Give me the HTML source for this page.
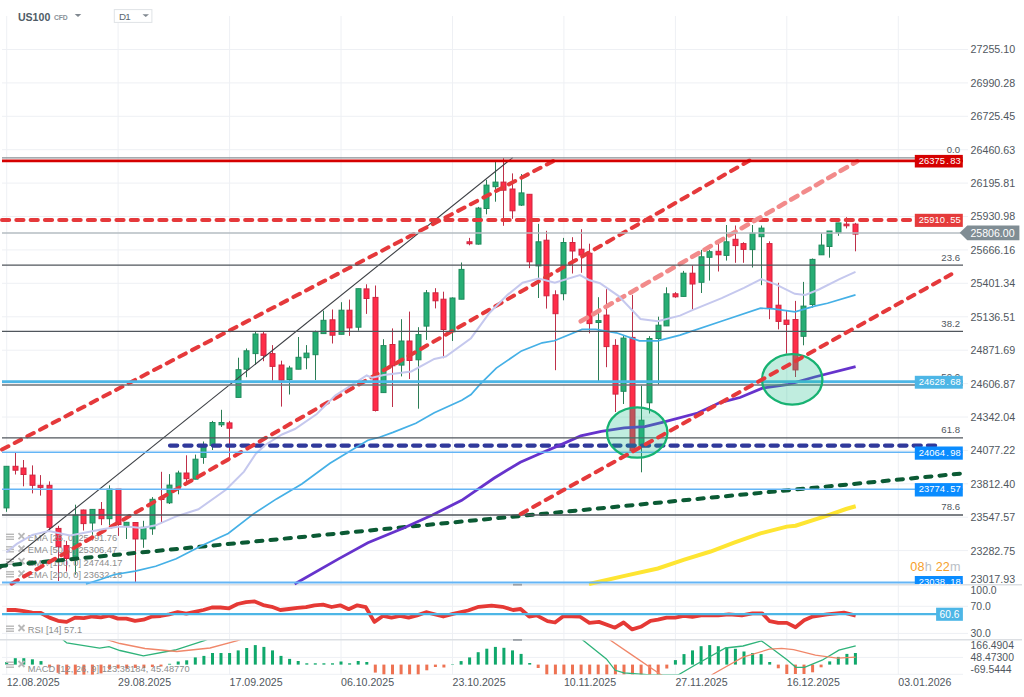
<!DOCTYPE html>
<html><head><meta charset="utf-8"><style>
html,body{margin:0;padding:0;background:#fff;width:1024px;height:697px;overflow:hidden}
svg{display:block;font-family:"Liberation Sans", sans-serif}
</style></head><body>
<svg width="1024" height="697" viewBox="0 0 1024 697">
<rect width="1024" height="697" fill="#ffffff"/>
<line x1="2" y1="49.5" x2="968" y2="49.5" stroke="#eef0f4" stroke-width="1"/>
<line x1="2" y1="82.9" x2="968" y2="82.9" stroke="#eef0f4" stroke-width="1"/>
<line x1="2" y1="116.3" x2="968" y2="116.3" stroke="#eef0f4" stroke-width="1"/>
<line x1="2" y1="149.7" x2="968" y2="149.7" stroke="#eef0f4" stroke-width="1"/>
<line x1="2" y1="183.1" x2="968" y2="183.1" stroke="#eef0f4" stroke-width="1"/>
<line x1="2" y1="216.5" x2="968" y2="216.5" stroke="#eef0f4" stroke-width="1"/>
<line x1="2" y1="249.9" x2="968" y2="249.9" stroke="#eef0f4" stroke-width="1"/>
<line x1="2" y1="283.3" x2="968" y2="283.3" stroke="#eef0f4" stroke-width="1"/>
<line x1="2" y1="316.8" x2="968" y2="316.8" stroke="#eef0f4" stroke-width="1"/>
<line x1="2" y1="350.2" x2="968" y2="350.2" stroke="#eef0f4" stroke-width="1"/>
<line x1="2" y1="383.6" x2="968" y2="383.6" stroke="#eef0f4" stroke-width="1"/>
<line x1="2" y1="417" x2="968" y2="417" stroke="#eef0f4" stroke-width="1"/>
<line x1="2" y1="450.4" x2="968" y2="450.4" stroke="#eef0f4" stroke-width="1"/>
<line x1="2" y1="483.8" x2="968" y2="483.8" stroke="#eef0f4" stroke-width="1"/>
<line x1="2" y1="517.2" x2="968" y2="517.2" stroke="#eef0f4" stroke-width="1"/>
<line x1="2" y1="550.6" x2="968" y2="550.6" stroke="#eef0f4" stroke-width="1"/>
<line x1="6.7" y1="16" x2="6.7" y2="675" stroke="#eef0f4" stroke-width="1"/>
<line x1="118.1" y1="16" x2="118.1" y2="675" stroke="#eef0f4" stroke-width="1"/>
<line x1="229.6" y1="16" x2="229.6" y2="675" stroke="#eef0f4" stroke-width="1"/>
<line x1="341" y1="16" x2="341" y2="675" stroke="#eef0f4" stroke-width="1"/>
<line x1="452.5" y1="16" x2="452.5" y2="675" stroke="#eef0f4" stroke-width="1"/>
<line x1="563.9" y1="16" x2="563.9" y2="675" stroke="#eef0f4" stroke-width="1"/>
<line x1="675.4" y1="16" x2="675.4" y2="675" stroke="#eef0f4" stroke-width="1"/>
<line x1="786.8" y1="16" x2="786.8" y2="675" stroke="#eef0f4" stroke-width="1"/>
<line x1="898.3" y1="16" x2="898.3" y2="675" stroke="#eef0f4" stroke-width="1"/>
<line x1="2" y1="606.3" x2="968" y2="606.3" stroke="#eef0f4" stroke-width="1"/>
<line x1="2" y1="633.4" x2="968" y2="633.4" stroke="#eef0f4" stroke-width="1"/>
<line x1="2" y1="657.4" x2="963" y2="657.4" stroke="#eef0f4" stroke-width="1"/>
<line x1="2" y1="674.3" x2="963" y2="674.3" stroke="#eef0f4" stroke-width="1"/>
<line x1="0" y1="584.8" x2="1022" y2="584.8" stroke="#dcdfe3" stroke-width="1.5"/>
<line x1="0" y1="639.7" x2="1022" y2="639.7" stroke="#dcdfe3" stroke-width="1.5"/>
<line x1="6.5" y1="466.3" x2="6.5" y2="511.8" stroke="#2b7d55" stroke-width="1"/>
<rect x="4" y="466.3" width="5" height="41.6" fill="#27ae74" stroke="#1f8a5c" stroke-width="1"/>
<line x1="15.5" y1="452.9" x2="15.5" y2="474.5" stroke="#be3049" stroke-width="1"/>
<rect x="13" y="466.3" width="5" height="3.9" fill="#ff2d48" stroke="#cf2540" stroke-width="1"/>
<line x1="23.5" y1="460" x2="23.5" y2="486.3" stroke="#be3049" stroke-width="1"/>
<rect x="21" y="468" width="5" height="6.5" fill="#ff2d48" stroke="#cf2540" stroke-width="1"/>
<line x1="32.5" y1="465.4" x2="32.5" y2="493.4" stroke="#be3049" stroke-width="1"/>
<rect x="30" y="475.1" width="5" height="10.2" fill="#ff2d48" stroke="#cf2540" stroke-width="1"/>
<line x1="40.5" y1="475.1" x2="40.5" y2="495.6" stroke="#be3049" stroke-width="1"/>
<rect x="38" y="485.3" width="5" height="2.1" fill="#ff2d48" stroke="#cf2540" stroke-width="1"/>
<line x1="49.5" y1="481.4" x2="49.5" y2="530.5" stroke="#be3049" stroke-width="1"/>
<rect x="47" y="485.3" width="5" height="42" fill="#ff2d48" stroke="#cf2540" stroke-width="1"/>
<line x1="58.5" y1="525.8" x2="58.5" y2="581" stroke="#be3049" stroke-width="1"/>
<rect x="56" y="528.4" width="5" height="18.3" fill="#ff2d48" stroke="#cf2540" stroke-width="1"/>
<line x1="66.5" y1="540.9" x2="66.5" y2="571.5" stroke="#be3049" stroke-width="1"/>
<rect x="64" y="545.6" width="5" height="12.9" fill="#ff2d48" stroke="#cf2540" stroke-width="1"/>
<line x1="75.5" y1="504.7" x2="75.5" y2="574.7" stroke="#2b7d55" stroke-width="1"/>
<rect x="73" y="515" width="5" height="44.6" fill="#27ae74" stroke="#1f8a5c" stroke-width="1"/>
<line x1="83.5" y1="509.6" x2="83.5" y2="530.5" stroke="#be3049" stroke-width="1"/>
<rect x="81" y="510" width="5" height="13.6" fill="#ff2d48" stroke="#cf2540" stroke-width="1"/>
<line x1="92.5" y1="509" x2="92.5" y2="534.8" stroke="#2b7d55" stroke-width="1"/>
<rect x="90" y="509.4" width="5" height="13.6" fill="#27ae74" stroke="#1f8a5c" stroke-width="1"/>
<line x1="101.5" y1="502" x2="101.5" y2="525.1" stroke="#be3049" stroke-width="1"/>
<rect x="99" y="509.4" width="5" height="9.3" fill="#ff2d48" stroke="#cf2540" stroke-width="1"/>
<line x1="109.5" y1="485.3" x2="109.5" y2="525.1" stroke="#2b7d55" stroke-width="1"/>
<rect x="107" y="489.1" width="5" height="29.6" fill="#27ae74" stroke="#1f8a5c" stroke-width="1"/>
<line x1="118.5" y1="489.1" x2="118.5" y2="535.9" stroke="#be3049" stroke-width="1"/>
<rect x="116" y="489.1" width="5" height="35.4" fill="#ff2d48" stroke="#cf2540" stroke-width="1"/>
<line x1="126.5" y1="522.3" x2="126.5" y2="539" stroke="#2b7d55" stroke-width="1"/>
<rect x="124" y="522.3" width="5" height="3.5" fill="#27ae74" stroke="#1f8a5c" stroke-width="1"/>
<line x1="135.5" y1="522.5" x2="135.5" y2="582.7" stroke="#be3049" stroke-width="1"/>
<rect x="133" y="522.5" width="5" height="16.5" fill="#ff2d48" stroke="#cf2540" stroke-width="1"/>
<line x1="143.5" y1="520.8" x2="143.5" y2="547.8" stroke="#2b7d55" stroke-width="1"/>
<rect x="141" y="527.3" width="5" height="11.7" fill="#27ae74" stroke="#1f8a5c" stroke-width="1"/>
<line x1="152.5" y1="497.1" x2="152.5" y2="534.8" stroke="#2b7d55" stroke-width="1"/>
<rect x="150" y="499.3" width="5" height="29.5" fill="#27ae74" stroke="#1f8a5c" stroke-width="1"/>
<line x1="161.5" y1="471.8" x2="161.5" y2="522.3" stroke="#be3049" stroke-width="1"/>
<rect x="159" y="497.5" width="5" height="2" fill="#ff2d48" stroke="#cf2540" stroke-width="1"/>
<line x1="169.5" y1="474.1" x2="169.5" y2="504" stroke="#2b7d55" stroke-width="1"/>
<rect x="167" y="485.1" width="5" height="17.7" fill="#27ae74" stroke="#1f8a5c" stroke-width="1"/>
<line x1="178.5" y1="470.7" x2="178.5" y2="494.3" stroke="#2b7d55" stroke-width="1"/>
<rect x="176" y="473" width="5" height="13.7" fill="#27ae74" stroke="#1f8a5c" stroke-width="1"/>
<line x1="186.5" y1="455.3" x2="186.5" y2="483.3" stroke="#be3049" stroke-width="1"/>
<rect x="184" y="473" width="5" height="5.7" fill="#ff2d48" stroke="#cf2540" stroke-width="1"/>
<line x1="195.5" y1="454.6" x2="195.5" y2="479.2" stroke="#2b7d55" stroke-width="1"/>
<rect x="193" y="459.2" width="5" height="20" fill="#27ae74" stroke="#1f8a5c" stroke-width="1"/>
<line x1="203.5" y1="441.5" x2="203.5" y2="463.8" stroke="#2b7d55" stroke-width="1"/>
<rect x="201" y="447" width="5" height="10.4" fill="#27ae74" stroke="#1f8a5c" stroke-width="1"/>
<line x1="212.5" y1="420.9" x2="212.5" y2="450" stroke="#2b7d55" stroke-width="1"/>
<rect x="210" y="422.5" width="5" height="22.9" fill="#27ae74" stroke="#1f8a5c" stroke-width="1"/>
<line x1="221.5" y1="409.8" x2="221.5" y2="427" stroke="#2b7d55" stroke-width="1"/>
<rect x="219" y="422.5" width="5" height="2.3" fill="#27ae74" stroke="#1f8a5c" stroke-width="1"/>
<line x1="229.5" y1="420.9" x2="229.5" y2="459.2" stroke="#be3049" stroke-width="1"/>
<rect x="227" y="422.9" width="5" height="5.3" fill="#ff2d48" stroke="#cf2540" stroke-width="1"/>
<line x1="238.5" y1="357.7" x2="238.5" y2="397.4" stroke="#2b7d55" stroke-width="1"/>
<rect x="236" y="369.7" width="5" height="27.7" fill="#27ae74" stroke="#1f8a5c" stroke-width="1"/>
<line x1="246.5" y1="348.5" x2="246.5" y2="377.2" stroke="#2b7d55" stroke-width="1"/>
<rect x="244" y="350.8" width="5" height="18.4" fill="#27ae74" stroke="#1f8a5c" stroke-width="1"/>
<line x1="255.5" y1="332" x2="255.5" y2="364.6" stroke="#2b7d55" stroke-width="1"/>
<rect x="253" y="334" width="5" height="19.6" fill="#27ae74" stroke="#1f8a5c" stroke-width="1"/>
<line x1="263.5" y1="332" x2="263.5" y2="361.2" stroke="#be3049" stroke-width="1"/>
<rect x="261" y="334" width="5" height="21.4" fill="#ff2d48" stroke="#cf2540" stroke-width="1"/>
<line x1="272.5" y1="345.1" x2="272.5" y2="380.7" stroke="#be3049" stroke-width="1"/>
<rect x="270" y="353.6" width="5" height="12.8" fill="#ff2d48" stroke="#cf2540" stroke-width="1"/>
<line x1="281.5" y1="360.7" x2="281.5" y2="406.6" stroke="#be3049" stroke-width="1"/>
<rect x="279" y="365" width="5" height="15.2" fill="#ff2d48" stroke="#cf2540" stroke-width="1"/>
<line x1="289.5" y1="365.8" x2="289.5" y2="394.5" stroke="#2b7d55" stroke-width="1"/>
<rect x="287" y="368" width="5" height="11.5" fill="#27ae74" stroke="#1f8a5c" stroke-width="1"/>
<line x1="298.5" y1="337" x2="298.5" y2="369.2" stroke="#2b7d55" stroke-width="1"/>
<rect x="296" y="357.3" width="5" height="11.9" fill="#27ae74" stroke="#1f8a5c" stroke-width="1"/>
<line x1="306.5" y1="345.1" x2="306.5" y2="369.2" stroke="#2b7d55" stroke-width="1"/>
<rect x="304" y="353.1" width="5" height="4.6" fill="#27ae74" stroke="#1f8a5c" stroke-width="1"/>
<line x1="315.5" y1="330.6" x2="315.5" y2="380" stroke="#2b7d55" stroke-width="1"/>
<rect x="313" y="331.8" width="5" height="22.9" fill="#27ae74" stroke="#1f8a5c" stroke-width="1"/>
<line x1="323.5" y1="310.7" x2="323.5" y2="333.6" stroke="#2b7d55" stroke-width="1"/>
<rect x="321" y="320.3" width="5" height="13.3" fill="#27ae74" stroke="#1f8a5c" stroke-width="1"/>
<line x1="332.5" y1="309.5" x2="332.5" y2="343.5" stroke="#be3049" stroke-width="1"/>
<rect x="330" y="319.8" width="5" height="15.4" fill="#ff2d48" stroke="#cf2540" stroke-width="1"/>
<line x1="341.5" y1="302.2" x2="341.5" y2="334.3" stroke="#2b7d55" stroke-width="1"/>
<rect x="339" y="310.2" width="5" height="24.1" fill="#27ae74" stroke="#1f8a5c" stroke-width="1"/>
<line x1="349.5" y1="299.6" x2="349.5" y2="335.9" stroke="#be3049" stroke-width="1"/>
<rect x="347" y="310.2" width="5" height="17.7" fill="#ff2d48" stroke="#cf2540" stroke-width="1"/>
<line x1="358.5" y1="288.7" x2="358.5" y2="330.7" stroke="#2b7d55" stroke-width="1"/>
<rect x="356" y="288.7" width="5" height="38.5" fill="#27ae74" stroke="#1f8a5c" stroke-width="1"/>
<line x1="366.5" y1="284.3" x2="366.5" y2="313.9" stroke="#be3049" stroke-width="1"/>
<rect x="364" y="288.9" width="5" height="9.6" fill="#ff2d48" stroke="#cf2540" stroke-width="1"/>
<line x1="375.5" y1="285.5" x2="375.5" y2="411.5" stroke="#be3049" stroke-width="1"/>
<rect x="373" y="297.4" width="5" height="113.1" fill="#ff2d48" stroke="#cf2540" stroke-width="1"/>
<line x1="383.5" y1="339.2" x2="383.5" y2="392.6" stroke="#2b7d55" stroke-width="1"/>
<rect x="381" y="345.6" width="5" height="47" fill="#27ae74" stroke="#1f8a5c" stroke-width="1"/>
<line x1="392.5" y1="328.4" x2="392.5" y2="407" stroke="#be3049" stroke-width="1"/>
<rect x="390" y="344.5" width="5" height="21.3" fill="#ff2d48" stroke="#cf2540" stroke-width="1"/>
<line x1="401.5" y1="319.2" x2="401.5" y2="376.4" stroke="#2b7d55" stroke-width="1"/>
<rect x="399" y="341" width="5" height="24.1" fill="#27ae74" stroke="#1f8a5c" stroke-width="1"/>
<line x1="409.5" y1="311.6" x2="409.5" y2="379" stroke="#be3049" stroke-width="1"/>
<rect x="407" y="341" width="5" height="19.5" fill="#ff2d48" stroke="#cf2540" stroke-width="1"/>
<line x1="418.5" y1="327.2" x2="418.5" y2="408.7" stroke="#2b7d55" stroke-width="1"/>
<rect x="416" y="334.6" width="5" height="25.2" fill="#27ae74" stroke="#1f8a5c" stroke-width="1"/>
<line x1="426.5" y1="290" x2="426.5" y2="339.9" stroke="#2b7d55" stroke-width="1"/>
<rect x="424" y="292.8" width="5" height="33.3" fill="#27ae74" stroke="#1f8a5c" stroke-width="1"/>
<line x1="435.5" y1="288.2" x2="435.5" y2="308.4" stroke="#be3049" stroke-width="1"/>
<rect x="433" y="292.8" width="5" height="8" fill="#ff2d48" stroke="#cf2540" stroke-width="1"/>
<line x1="443.5" y1="291.7" x2="443.5" y2="358.2" stroke="#be3049" stroke-width="1"/>
<rect x="441" y="299.2" width="5" height="30.3" fill="#ff2d48" stroke="#cf2540" stroke-width="1"/>
<line x1="452.5" y1="297.4" x2="452.5" y2="341" stroke="#2b7d55" stroke-width="1"/>
<rect x="450" y="298" width="5" height="33.8" fill="#27ae74" stroke="#1f8a5c" stroke-width="1"/>
<line x1="461.5" y1="262.5" x2="461.5" y2="299.2" stroke="#2b7d55" stroke-width="1"/>
<rect x="459" y="269.4" width="5" height="29.8" fill="#27ae74" stroke="#1f8a5c" stroke-width="1"/>
<line x1="469.5" y1="237.9" x2="469.5" y2="245.3" stroke="#be3049" stroke-width="1"/>
<rect x="467" y="241.8" width="5" height="1.9" fill="#ff2d48" stroke="#cf2540" stroke-width="1"/>
<line x1="478.5" y1="206.9" x2="478.5" y2="244.6" stroke="#2b7d55" stroke-width="1"/>
<rect x="476" y="208.1" width="5" height="36" fill="#27ae74" stroke="#1f8a5c" stroke-width="1"/>
<line x1="486.5" y1="179.8" x2="486.5" y2="214.3" stroke="#2b7d55" stroke-width="1"/>
<rect x="484" y="185.1" width="5" height="23.4" fill="#27ae74" stroke="#1f8a5c" stroke-width="1"/>
<line x1="495.5" y1="161.9" x2="495.5" y2="201.7" stroke="#2b7d55" stroke-width="1"/>
<rect x="493" y="182.1" width="5" height="4.6" fill="#27ae74" stroke="#1f8a5c" stroke-width="1"/>
<line x1="503.5" y1="158" x2="503.5" y2="225.8" stroke="#be3049" stroke-width="1"/>
<rect x="501" y="182.1" width="5" height="8.1" fill="#ff2d48" stroke="#cf2540" stroke-width="1"/>
<line x1="512.5" y1="173.4" x2="512.5" y2="218.9" stroke="#be3049" stroke-width="1"/>
<rect x="510" y="189" width="5" height="21.8" fill="#ff2d48" stroke="#cf2540" stroke-width="1"/>
<line x1="521.5" y1="174.1" x2="521.5" y2="206" stroke="#2b7d55" stroke-width="1"/>
<rect x="519" y="192.9" width="5" height="12.2" fill="#27ae74" stroke="#1f8a5c" stroke-width="1"/>
<line x1="529.5" y1="194.3" x2="529.5" y2="268.2" stroke="#be3049" stroke-width="1"/>
<rect x="527" y="194.3" width="5" height="67.5" fill="#ff2d48" stroke="#cf2540" stroke-width="1"/>
<line x1="538.5" y1="223.9" x2="538.5" y2="298" stroke="#2b7d55" stroke-width="1"/>
<rect x="536" y="241.8" width="5" height="24.1" fill="#27ae74" stroke="#1f8a5c" stroke-width="1"/>
<line x1="546.5" y1="230.8" x2="546.5" y2="308.6" stroke="#be3049" stroke-width="1"/>
<rect x="544" y="240.2" width="5" height="55.6" fill="#ff2d48" stroke="#cf2540" stroke-width="1"/>
<line x1="555.5" y1="290.3" x2="555.5" y2="370.2" stroke="#be3049" stroke-width="1"/>
<rect x="553" y="294.8" width="5" height="18.9" fill="#ff2d48" stroke="#cf2540" stroke-width="1"/>
<line x1="563.5" y1="237.9" x2="563.5" y2="300.3" stroke="#2b7d55" stroke-width="1"/>
<rect x="561" y="242.5" width="5" height="51.2" fill="#27ae74" stroke="#1f8a5c" stroke-width="1"/>
<line x1="572.5" y1="237.2" x2="572.5" y2="273.5" stroke="#be3049" stroke-width="1"/>
<rect x="570" y="242.5" width="5" height="8.5" fill="#ff2d48" stroke="#cf2540" stroke-width="1"/>
<line x1="581.5" y1="229.2" x2="581.5" y2="272.8" stroke="#be3049" stroke-width="1"/>
<rect x="579" y="249.2" width="5" height="5.9" fill="#ff2d48" stroke="#cf2540" stroke-width="1"/>
<line x1="589.5" y1="243.7" x2="589.5" y2="333.3" stroke="#be3049" stroke-width="1"/>
<rect x="587" y="253.3" width="5" height="70.3" fill="#ff2d48" stroke="#cf2540" stroke-width="1"/>
<line x1="598.5" y1="297.2" x2="598.5" y2="381" stroke="#2b7d55" stroke-width="1"/>
<rect x="596" y="320.6" width="5" height="1.9" fill="#27ae74" stroke="#1f8a5c" stroke-width="1"/>
<line x1="606.5" y1="289.2" x2="606.5" y2="367.2" stroke="#be3049" stroke-width="1"/>
<rect x="604" y="315.1" width="5" height="31.5" fill="#ff2d48" stroke="#cf2540" stroke-width="1"/>
<line x1="615.5" y1="339.2" x2="615.5" y2="412" stroke="#be3049" stroke-width="1"/>
<rect x="613" y="345.4" width="5" height="48.7" fill="#ff2d48" stroke="#cf2540" stroke-width="1"/>
<line x1="623.5" y1="335.8" x2="623.5" y2="404" stroke="#2b7d55" stroke-width="1"/>
<rect x="621" y="338.1" width="5" height="53.2" fill="#27ae74" stroke="#1f8a5c" stroke-width="1"/>
<line x1="632.5" y1="294.9" x2="632.5" y2="451" stroke="#be3049" stroke-width="1"/>
<rect x="630" y="337.4" width="5" height="113.6" fill="#ff2d48" stroke="#cf2540" stroke-width="1"/>
<line x1="641.5" y1="385.6" x2="641.5" y2="472.3" stroke="#2b7d55" stroke-width="1"/>
<rect x="639" y="420.2" width="5" height="25.1" fill="#27ae74" stroke="#1f8a5c" stroke-width="1"/>
<line x1="649.5" y1="336.2" x2="649.5" y2="413.5" stroke="#2b7d55" stroke-width="1"/>
<rect x="647" y="338.5" width="5" height="64.3" fill="#27ae74" stroke="#1f8a5c" stroke-width="1"/>
<line x1="658.5" y1="316.7" x2="658.5" y2="384.5" stroke="#2b7d55" stroke-width="1"/>
<rect x="656" y="325.2" width="5" height="13.3" fill="#27ae74" stroke="#1f8a5c" stroke-width="1"/>
<line x1="666.5" y1="287.3" x2="666.5" y2="325.9" stroke="#2b7d55" stroke-width="1"/>
<rect x="664" y="293.8" width="5" height="32.1" fill="#27ae74" stroke="#1f8a5c" stroke-width="1"/>
<line x1="675.5" y1="292.1" x2="675.5" y2="297.8" stroke="#be3049" stroke-width="1"/>
<rect x="673" y="293.8" width="5" height="3" fill="#ff2d48" stroke="#cf2540" stroke-width="1"/>
<line x1="683.5" y1="270.9" x2="683.5" y2="296.4" stroke="#2b7d55" stroke-width="1"/>
<rect x="681" y="273.2" width="5" height="23.2" fill="#27ae74" stroke="#1f8a5c" stroke-width="1"/>
<line x1="692.5" y1="265.4" x2="692.5" y2="309.3" stroke="#be3049" stroke-width="1"/>
<rect x="690" y="273.2" width="5" height="10.8" fill="#ff2d48" stroke="#cf2540" stroke-width="1"/>
<line x1="701.5" y1="249.9" x2="701.5" y2="293" stroke="#2b7d55" stroke-width="1"/>
<rect x="699" y="256.8" width="5" height="25.5" fill="#27ae74" stroke="#1f8a5c" stroke-width="1"/>
<line x1="709.5" y1="249.9" x2="709.5" y2="280.6" stroke="#2b7d55" stroke-width="1"/>
<rect x="707" y="251.7" width="5" height="5.6" fill="#27ae74" stroke="#1f8a5c" stroke-width="1"/>
<line x1="718.5" y1="243.9" x2="718.5" y2="271.5" stroke="#be3049" stroke-width="1"/>
<rect x="716" y="251.3" width="5" height="3.5" fill="#ff2d48" stroke="#cf2540" stroke-width="1"/>
<line x1="726.5" y1="225" x2="726.5" y2="260.6" stroke="#2b7d55" stroke-width="1"/>
<rect x="724" y="241.8" width="5" height="13.6" fill="#27ae74" stroke="#1f8a5c" stroke-width="1"/>
<line x1="735.5" y1="225.5" x2="735.5" y2="262.8" stroke="#be3049" stroke-width="1"/>
<rect x="733" y="239.3" width="5" height="6.3" fill="#ff2d48" stroke="#cf2540" stroke-width="1"/>
<line x1="743.5" y1="242.2" x2="743.5" y2="262.8" stroke="#be3049" stroke-width="1"/>
<rect x="741" y="243.6" width="5" height="5.8" fill="#ff2d48" stroke="#cf2540" stroke-width="1"/>
<line x1="752.5" y1="225" x2="752.5" y2="267.5" stroke="#2b7d55" stroke-width="1"/>
<rect x="750" y="233.2" width="5" height="16.4" fill="#27ae74" stroke="#1f8a5c" stroke-width="1"/>
<line x1="761.5" y1="225.5" x2="761.5" y2="285.2" stroke="#2b7d55" stroke-width="1"/>
<rect x="759" y="228.1" width="5" height="8.6" fill="#27ae74" stroke="#1f8a5c" stroke-width="1"/>
<line x1="769.5" y1="241.3" x2="769.5" y2="319.2" stroke="#be3049" stroke-width="1"/>
<rect x="767" y="243.6" width="5" height="64.4" fill="#ff2d48" stroke="#cf2540" stroke-width="1"/>
<line x1="778.5" y1="282.8" x2="778.5" y2="329.4" stroke="#be3049" stroke-width="1"/>
<rect x="776" y="305.2" width="5" height="16.2" fill="#ff2d48" stroke="#cf2540" stroke-width="1"/>
<line x1="786.5" y1="310.8" x2="786.5" y2="353.7" stroke="#be3049" stroke-width="1"/>
<rect x="784" y="320.1" width="5" height="4.3" fill="#ff2d48" stroke="#cf2540" stroke-width="1"/>
<line x1="795.5" y1="300.9" x2="795.5" y2="377" stroke="#be3049" stroke-width="1"/>
<rect x="793" y="319.5" width="5" height="50.4" fill="#ff2d48" stroke="#cf2540" stroke-width="1"/>
<line x1="803.5" y1="281.9" x2="803.5" y2="345.3" stroke="#2b7d55" stroke-width="1"/>
<rect x="801" y="306.1" width="5" height="30.2" fill="#27ae74" stroke="#1f8a5c" stroke-width="1"/>
<line x1="812.5" y1="258.5" x2="812.5" y2="307.6" stroke="#2b7d55" stroke-width="1"/>
<rect x="810" y="259.4" width="5" height="45.1" fill="#27ae74" stroke="#1f8a5c" stroke-width="1"/>
<line x1="821.5" y1="233.2" x2="821.5" y2="254.8" stroke="#2b7d55" stroke-width="1"/>
<rect x="819" y="245.1" width="5" height="9.7" fill="#27ae74" stroke="#1f8a5c" stroke-width="1"/>
<line x1="829.5" y1="231" x2="829.5" y2="257.7" stroke="#2b7d55" stroke-width="1"/>
<rect x="827" y="231" width="5" height="15.5" fill="#27ae74" stroke="#1f8a5c" stroke-width="1"/>
<line x1="838.5" y1="222.9" x2="838.5" y2="235.8" stroke="#2b7d55" stroke-width="1"/>
<rect x="836" y="222.9" width="5" height="9.8" fill="#27ae74" stroke="#1f8a5c" stroke-width="1"/>
<line x1="846.5" y1="217.2" x2="846.5" y2="228.4" stroke="#be3049" stroke-width="1"/>
<rect x="844" y="224.1" width="5" height="1.7" fill="#ff2d48" stroke="#cf2540" stroke-width="1"/>
<line x1="855.5" y1="222.9" x2="855.5" y2="251.3" stroke="#be3049" stroke-width="1"/>
<rect x="853" y="224.1" width="5" height="10" fill="#ff2d48" stroke="#cf2540" stroke-width="1"/>
<rect x="6" y="533.6" width="8" height="1.4" fill="#b8b8b8"/><rect x="6" y="536.1" width="8" height="1.4" fill="#b8b8b8"/><rect x="6" y="538.6" width="8" height="1.4" fill="#b8b8b8"/><path d="M18.5 533.1 l6 6 M24.5 533.1 l-6 6" stroke="#b8b8b8" stroke-width="1.8"/>
<text x="27.8" y="540.6" font-size="9.3" fill="#8d8d8d" xml:space="preserve">EMA [25, 0] 25491.76</text>
<rect x="6" y="546.1" width="8" height="1.4" fill="#b8b8b8"/><rect x="6" y="548.6" width="8" height="1.4" fill="#b8b8b8"/><rect x="6" y="551.1" width="8" height="1.4" fill="#b8b8b8"/><path d="M18.5 545.6 l6 6 M24.5 545.6 l-6 6" stroke="#b8b8b8" stroke-width="1.8"/>
<text x="27.8" y="553.1" font-size="9.3" fill="#8d8d8d" xml:space="preserve">EMA [50, 0] 25306.47</text>
<rect x="6" y="558.6" width="8" height="1.4" fill="#b8b8b8"/><rect x="6" y="561.1" width="8" height="1.4" fill="#b8b8b8"/><rect x="6" y="563.6" width="8" height="1.4" fill="#b8b8b8"/><path d="M18.5 558.1 l6 6 M24.5 558.1 l-6 6" stroke="#b8b8b8" stroke-width="1.8"/>
<text x="27.8" y="565.6" font-size="9.3" fill="#8d8d8d" xml:space="preserve">EMA [100, 0] 24744.17</text>
<rect x="6" y="571.1" width="8" height="1.4" fill="#b8b8b8"/><rect x="6" y="573.6" width="8" height="1.4" fill="#b8b8b8"/><rect x="6" y="576.1" width="8" height="1.4" fill="#b8b8b8"/><path d="M18.5 570.6 l6 6 M24.5 570.6 l-6 6" stroke="#b8b8b8" stroke-width="1.8"/>
<text x="27.8" y="578.1" font-size="9.3" fill="#8d8d8d" xml:space="preserve">EMA [200, 0] 23632.18</text>
<line x1="0" y1="569" x2="512.7" y2="157.6" stroke="#3c3f44" stroke-width="1.1"/>
<line x1="170" y1="445.6" x2="937.5" y2="445.6" stroke="#30399b" stroke-width="4.2" stroke-dasharray="7.2 7.1" stroke-linecap="round"/>
<line x1="0" y1="566" x2="960" y2="473.7" stroke="#0b5a34" stroke-width="4" stroke-dasharray="6.2 8.1" stroke-linecap="round"/>
<line x1="2" y1="219.9" x2="913" y2="219.9" stroke="#e5393b" stroke-width="4" stroke-dasharray="7.2 7.1" stroke-linecap="round"/>
<line x1="2" y1="449.6" x2="554" y2="160.7" stroke="#e5393b" stroke-width="4" stroke-dasharray="7.2 7.1" stroke-linecap="round"/>
<line x1="11.6" y1="583.7" x2="749.5" y2="160.5" stroke="#e5393b" stroke-width="4" stroke-dasharray="7.2 7.1" stroke-linecap="round"/>
<line x1="580.8" y1="321.3" x2="857.2" y2="161.3" stroke="#f28b8b" stroke-width="4.6" stroke-dasharray="7.2 7.1" stroke-linecap="round"/>
<polyline points="6.5,552.3 16.8,543.9 32.3,534.9 49.1,531 58.1,532.9 70,535.5 82,533.2 101,529.4 117.4,526.7 128.4,526.7 142,528 155.7,525.3 176.2,516.4 198.4,509.3 225.9,489.7 244,471.6 256,453.5 266,444.5 282,434.5 294.9,429 316.8,414 335.2,395.6 366.7,375.5 371.9,377.7 383.8,375 411.3,371.5 434.3,358.9 445.8,356.6 471,338.2 489.4,313 507.8,294.6 522.6,282.7 538.7,278.6 554.8,282.7 580,275.1 588.9,280 600,283.2 618.7,296.1 640.5,319 657.7,321.3 680,315.6 692.4,310.2 721.7,298.1 744,287.8 761.3,279.2 775.8,284.4 794.8,293.8 805.3,294.9 818.9,289.5 839.5,279.2 855.5,271.8" fill="none" stroke="#c5c8ee" stroke-width="2"/>
<polyline points="86,584 101,579.3 114.7,574.5 135.2,571.1 155.7,566.3 176.2,558.8 203,544.9 228.2,533.4 253.5,513.9 276.5,498.9 301.8,484 330,463.3 367.9,440.3 379.6,437.3 393,432.4 415.9,423.2 434.3,412.8 461.8,400.2 471,394.5 480.2,384.1 496.3,368.1 521.5,350.9 542.2,342.8 554.4,340.8 582,329.4 595.8,329.4 616.4,332.8 639.4,340.8 657.7,340.8 680,335.1 725.1,320 760.5,308.2 773.3,308.8 795,311.8 814.6,306.1 827.5,303.3 855.5,294.9" fill="none" stroke="#45b0e6" stroke-width="1.7"/>
<polyline points="294.6,584 338.6,558.9 367.9,542.8 403.1,528.2 432.4,515 461.7,500.3 493.9,478.3 520.3,462.2 543.7,452 560,445.1 580.7,435.9 601.3,431.3 624.3,427.9 644.9,426.7 663.3,422.1 697.7,413 720,402.6 740,397.5 762.4,388.2 788.5,384.4 814.6,377 855.6,366.7" fill="none" stroke="#6633cc" stroke-width="2.8"/>
<polyline points="589,584 625.7,575.6 657.9,568.5 684.3,559.7 710.6,551.5 734.1,542.7 760.4,533.4 786.8,526.6 795.6,525.7 824.9,516.4 846,509 855.7,506.3" fill="none" stroke="#fee532" stroke-width="4"/>
<line x1="2" y1="157.8" x2="963" y2="157.8" stroke="#8a9096" stroke-width="1.2"/>
<line x1="2" y1="265.2" x2="963" y2="265.2" stroke="#50565c" stroke-width="1.3"/>
<line x1="2" y1="331.3" x2="963" y2="331.3" stroke="#50565c" stroke-width="1.3"/>
<line x1="2" y1="437.9" x2="963" y2="437.9" stroke="#50565c" stroke-width="1.3"/>
<line x1="2" y1="515.0" x2="963" y2="515.0" stroke="#50565c" stroke-width="1.3"/>
<line x1="2" y1="385" x2="963" y2="385" stroke="#6d7378" stroke-width="1.3"/>
<line x1="2" y1="232.9" x2="962" y2="232.9" stroke="#b4bcc2" stroke-width="1.5"/>
<line x1="2" y1="381.6" x2="963" y2="381.6" stroke="#4db6e6" stroke-width="2.8"/>
<line x1="2" y1="452.2" x2="963" y2="452.2" stroke="#64b5f6" stroke-width="1.6"/>
<line x1="2" y1="489.3" x2="963" y2="489.3" stroke="#64b5f6" stroke-width="1.6"/>
<line x1="2" y1="582.6" x2="963" y2="582.6" stroke="#64b5f6" stroke-width="2"/>
<line x1="2" y1="160.9" x2="963" y2="160.9" stroke="#d50000" stroke-width="2.6"/>
<ellipse cx="637.2" cy="432.5" rx="30.2" ry="25.2" fill="rgba(30,190,140,0.28)" stroke="#17b272" stroke-width="2.3"/>
<ellipse cx="792.2" cy="379.4" rx="30.2" ry="25.2" fill="rgba(30,190,140,0.28)" stroke="#17b272" stroke-width="2.3"/>
<line x1="520.7" y1="513.9" x2="951.3" y2="274.3" stroke="#e5393b" stroke-width="4" stroke-dasharray="7.2 7.1" stroke-linecap="round"/>
<text x="970.6" y="53.4" font-size="10.7" fill="#50575e">27255.10</text>
<text x="970.6" y="86.8" font-size="10.7" fill="#50575e">26990.28</text>
<text x="970.6" y="120.2" font-size="10.7" fill="#50575e">26725.45</text>
<text x="970.6" y="153.6" font-size="10.7" fill="#50575e">26460.63</text>
<text x="970.6" y="187" font-size="10.7" fill="#50575e">26195.81</text>
<text x="970.6" y="220.4" font-size="10.7" fill="#50575e">25930.98</text>
<text x="970.6" y="253.8" font-size="10.7" fill="#50575e">25666.16</text>
<text x="970.6" y="287.2" font-size="10.7" fill="#50575e">25401.34</text>
<text x="970.6" y="320.7" font-size="10.7" fill="#50575e">25136.51</text>
<text x="970.6" y="354.1" font-size="10.7" fill="#50575e">24871.69</text>
<text x="970.6" y="387.5" font-size="10.7" fill="#50575e">24606.87</text>
<text x="970.6" y="420.9" font-size="10.7" fill="#50575e">24342.04</text>
<text x="970.6" y="454.3" font-size="10.7" fill="#50575e">24077.22</text>
<text x="970.6" y="487.7" font-size="10.7" fill="#50575e">23812.40</text>
<text x="970.6" y="521.1" font-size="10.7" fill="#50575e">23547.57</text>
<text x="970.6" y="554.5" font-size="10.7" fill="#50575e">23282.75</text>
<text x="970.6" y="583.3" font-size="10.7" fill="#50575e">23017.93</text>
<text x="960" y="153.3" font-size="9.6" fill="#50575e" text-anchor="end">0.0</text>
<text x="960" y="260.6" font-size="9.6" fill="#50575e" text-anchor="end">23.6</text>
<text x="960" y="327.2" font-size="9.6" fill="#50575e" text-anchor="end">38.2</text>
<text x="960" y="433.3" font-size="9.6" fill="#50575e" text-anchor="end">61.8</text>
<text x="960" y="510.3" font-size="9.6" fill="#50575e" text-anchor="end">78.6</text>
<text x="960" y="380" font-size="9.6" fill="#50575e" text-anchor="end">50.0</text>
<rect x="914.8" y="154.9" width="48" height="12.6" fill="#d50000"/>
<text x="918.8 924 929.3 934.5 939.8 946.3 950.3 955.5" y="164.1" font-size="9.4" fill="#ffffff">26375.83</text>
<rect x="914.8" y="213.8" width="48" height="13.1" fill="#e53b3b"/>
<text x="918.8 924 929.3 934.5 939.8 946.3 950.3 955.5" y="223.2" font-size="9.4" fill="#ffffff">25910.55</text>
<rect x="914.8" y="375.8" width="48" height="12.9" fill="#4db6e6"/>
<text x="918.8 924 929.3 934.5 939.8 946.3 950.3 955.5" y="385.3" font-size="9.4" fill="#ffffff">24628.68</text>
<rect x="914.8" y="446.5" width="48" height="13.2" fill="#0a8cff"/>
<text x="918.8 924 929.3 934.5 939.8 946.3 950.3 955.5" y="456" font-size="9.4" fill="#ffffff">24064.98</text>
<rect x="914.8" y="483.1" width="48" height="13.4" fill="#0a8cff"/>
<text x="918.8 924 929.3 934.5 939.8 946.3 950.3 955.5" y="492.1" font-size="9.4" fill="#ffffff">23774.57</text>
<rect x="914.8" y="576" width="48" height="8" fill="#0a8cff"/>
<text x="918.8 924 929.3 934.5 939.8 946.3 950.3 955.5" y="585" font-size="9.4" fill="#ffffff">23038.18</text>
<path d="M959.7 232.8 L967.3 225.5 L1019.4 225.5 L1019.4 240.2 L967.3 240.2 Z" fill="#808d94"/>
<text x="970.4" y="237" font-size="10.6" fill="#ffffff">25806.00</text>
<text x="910.3" y="570.8" font-size="12.6" fill="#f5a02a" letter-spacing="0.2">08<tspan fill="#b9c0c6">h</tspan> 22<tspan fill="#b9c0c6">m</tspan></text>
<polyline points="6.7,610 15.2,610 23.8,611.1 32.3,612.6 40.9,613 49.5,617.6 58,620.8 66.6,621.9 75.1,617.6 83.7,618.2 92.2,616.5 100.8,617.3 109.3,615.6 117.9,618.6 126.4,618.6 135,620.8 143.5,619.7 152.1,616.5 160.6,616 169.2,614.3 177.7,612.2 186.3,613.7 194.8,611.8 203.4,610 211.9,607.5 220.5,607.5 229,608.3 237.6,604 246.1,602.1 254.7,601.4 263.2,605.1 271.8,606.8 280.3,610 288.9,609 297.4,607.9 306,607.2 314.5,605.3 323.1,604.7 331.6,607 340.2,605.3 348.7,609.2 357.3,605.3 365.8,607.2 374.4,621.9 382.9,616 391.5,617.6 400,616 408.6,617.6 417.1,615.4 426.1,612.2 443.3,616.5 453,613.9 468,610.5 478.7,606.8 491.6,605.7 502.4,606.8 513.1,610 520.6,609 529.2,616.5 536.7,615.4 547.5,621.2 555,622.5 563.6,616 579.7,616.5 589.4,622.9 599,621.9 615,627.7 623.6,622.5 632.2,629.4 640.8,626.8 650.5,620.8 658,619.7 666.6,617.6 675.2,617.6 683.8,615.8 692.4,616.9 701,615.4 718.2,615.4 728.9,614.3 741.8,615.4 752.5,613.3 762.2,613.3 769.7,621.2 778.3,622.9 786.9,622.9 795.5,627.2 804.1,620.3 812.7,616.5 827.1,614.4 844,612.7 855.7,615.6" fill="none" stroke="#e53935" stroke-width="3.8" stroke-linejoin="round"/>
<line x1="2" y1="614.1" x2="937" y2="614.1" stroke="#4db6e6" stroke-width="2.2"/>
<rect x="6" y="625.5" width="8" height="1.4" fill="#b8b8b8"/><rect x="6" y="628" width="8" height="1.4" fill="#b8b8b8"/><rect x="6" y="630.5" width="8" height="1.4" fill="#b8b8b8"/><path d="M18.5 625 l6 6 M24.5 625 l-6 6" stroke="#b8b8b8" stroke-width="1.8"/>
<text x="27.8" y="633.4" font-size="9.3" fill="#8d8d8d" xml:space="preserve">RSI [14] 57.1</text>
<rect x="936.1" y="607.7" width="26.8" height="13.1" fill="#4db6e6"/>
<text x="949.5" y="617.8" font-size="10.2" fill="#ffffff" text-anchor="middle">60.6</text>
<text x="970.6" y="593.9" font-size="10.4" fill="#50575e">100.0</text>
<text x="970.6" y="610.2" font-size="10.4" fill="#50575e">70.0</text>
<text x="970.6" y="636.7" font-size="10.4" fill="#50575e">30.0</text>
<text x="970.6" y="649.3" font-size="10.4" fill="#50575e">166.4904</text>
<text x="970.6" y="661" font-size="10.4" fill="#50575e">48.47300</text>
<text x="970.6" y="672.8" font-size="10.4" fill="#50575e">-69.5444</text>
<rect x="5.2" y="662" width="3" height="2.6" fill="#10a86b"/>
<rect x="13.8" y="658.2" width="3" height="6.4" fill="#10a86b"/>
<rect x="22.3" y="658.2" width="3" height="6.4" fill="#10a86b"/>
<rect x="30.9" y="659.3" width="3" height="5.3" fill="#10a86b"/>
<rect x="39.5" y="661.1" width="3" height="3.5" fill="#10a86b"/>
<rect x="48.1" y="664.6" width="3" height="2.9" fill="#ee7252"/>
<rect x="56.6" y="664.6" width="3" height="8.2" fill="#ee7252"/>
<rect x="65.2" y="664.6" width="3" height="10" fill="#ee7252"/>
<rect x="73.8" y="664.6" width="3" height="10" fill="#ee7252"/>
<rect x="82.4" y="664.6" width="3" height="10" fill="#ee7252"/>
<rect x="90.9" y="664.6" width="3" height="10" fill="#ee7252"/>
<rect x="99.5" y="664.6" width="3" height="8.8" fill="#ee7252"/>
<rect x="108.1" y="664.6" width="3" height="4.7" fill="#ee7252"/>
<rect x="116.6" y="664.6" width="3" height="3.9" fill="#ee7252"/>
<rect x="125.2" y="664.6" width="3" height="3.9" fill="#ee7252"/>
<rect x="133.8" y="664.6" width="3" height="3.4" fill="#ee7252"/>
<rect x="142.4" y="664.6" width="3" height="3.4" fill="#ee7252"/>
<rect x="150.9" y="664.6" width="3" height="2.4" fill="#ee7252"/>
<rect x="159.5" y="664.6" width="3" height="1.9" fill="#ee7252"/>
<rect x="168.1" y="663.8" width="3" height="0.8" fill="#10a86b"/>
<rect x="176.7" y="661.5" width="3" height="3.1" fill="#10a86b"/>
<rect x="185.2" y="660.3" width="3" height="4.3" fill="#10a86b"/>
<rect x="193.8" y="657.4" width="3" height="7.2" fill="#10a86b"/>
<rect x="202.4" y="655.9" width="3" height="8.7" fill="#10a86b"/>
<rect x="211" y="653" width="3" height="11.6" fill="#10a86b"/>
<rect x="219.5" y="653" width="3" height="11.6" fill="#10a86b"/>
<rect x="228.1" y="653" width="3" height="11.6" fill="#10a86b"/>
<rect x="236.7" y="650.4" width="3" height="14.2" fill="#10a86b"/>
<rect x="245.2" y="648" width="3" height="16.6" fill="#10a86b"/>
<rect x="253.8" y="645.1" width="3" height="19.5" fill="#10a86b"/>
<rect x="262.4" y="646.9" width="3" height="17.7" fill="#10a86b"/>
<rect x="271" y="650.4" width="3" height="14.2" fill="#10a86b"/>
<rect x="279.5" y="655.9" width="3" height="8.7" fill="#10a86b"/>
<rect x="288.1" y="658.9" width="3" height="5.7" fill="#10a86b"/>
<rect x="296.7" y="661" width="3" height="3.6" fill="#10a86b"/>
<rect x="305.3" y="663.3" width="3" height="1.3" fill="#10a86b"/>
<rect x="313.8" y="663.3" width="3" height="1.3" fill="#10a86b"/>
<rect x="322.4" y="663.3" width="3" height="1.3" fill="#10a86b"/>
<rect x="331" y="663.3" width="3" height="1.3" fill="#10a86b"/>
<rect x="339.5" y="661.5" width="3" height="3.1" fill="#10a86b"/>
<rect x="348.1" y="663.3" width="3" height="1.3" fill="#10a86b"/>
<rect x="356.7" y="661" width="3" height="3.6" fill="#10a86b"/>
<rect x="365.3" y="662" width="3" height="2.6" fill="#10a86b"/>
<rect x="373.8" y="664.6" width="3" height="8" fill="#ee7252"/>
<rect x="382.4" y="664.6" width="3" height="9.7" fill="#ee7252"/>
<rect x="391" y="664.6" width="3" height="9.7" fill="#ee7252"/>
<rect x="399.6" y="664.6" width="3" height="9.7" fill="#ee7252"/>
<rect x="408.1" y="664.6" width="3" height="9.7" fill="#ee7252"/>
<rect x="416.7" y="664.6" width="3" height="9.7" fill="#ee7252"/>
<rect x="425.3" y="664.6" width="3" height="5.7" fill="#ee7252"/>
<rect x="433.9" y="664.6" width="3" height="2.4" fill="#ee7252"/>
<rect x="442.4" y="664.6" width="3" height="2.9" fill="#ee7252"/>
<rect x="451" y="664.2" width="3" height="0.4" fill="#10a86b"/>
<rect x="459.6" y="661.1" width="3" height="3.5" fill="#10a86b"/>
<rect x="468.1" y="657.4" width="3" height="7.2" fill="#10a86b"/>
<rect x="476.7" y="652.2" width="3" height="12.4" fill="#10a86b"/>
<rect x="485.3" y="648.7" width="3" height="15.9" fill="#10a86b"/>
<rect x="493.9" y="646.9" width="3" height="17.7" fill="#10a86b"/>
<rect x="502.4" y="647.8" width="3" height="16.8" fill="#10a86b"/>
<rect x="511" y="650.4" width="3" height="14.2" fill="#10a86b"/>
<rect x="519.6" y="653.9" width="3" height="10.7" fill="#10a86b"/>
<rect x="528.2" y="663" width="3" height="1.6" fill="#10a86b"/>
<rect x="536.7" y="664.6" width="3" height="3.4" fill="#ee7252"/>
<rect x="545.3" y="664.6" width="3" height="9.7" fill="#ee7252"/>
<rect x="553.9" y="664.6" width="3" height="9.7" fill="#ee7252"/>
<rect x="562.4" y="664.6" width="3" height="9.7" fill="#ee7252"/>
<rect x="571" y="664.6" width="3" height="9.7" fill="#ee7252"/>
<rect x="579.6" y="664.6" width="3" height="9.7" fill="#ee7252"/>
<rect x="588.2" y="664.6" width="3" height="9.7" fill="#ee7252"/>
<rect x="596.7" y="664.6" width="3" height="9.7" fill="#ee7252"/>
<rect x="605.3" y="664.6" width="3" height="9.7" fill="#ee7252"/>
<rect x="613.9" y="664.6" width="3" height="9.7" fill="#ee7252"/>
<rect x="622.5" y="664.6" width="3" height="9.7" fill="#ee7252"/>
<rect x="631" y="664.6" width="3" height="9.7" fill="#ee7252"/>
<rect x="639.6" y="664.6" width="3" height="9.7" fill="#ee7252"/>
<rect x="648.2" y="664.6" width="3" height="9.7" fill="#ee7252"/>
<rect x="656.7" y="664.6" width="3" height="9.7" fill="#ee7252"/>
<rect x="665.3" y="664.6" width="3" height="3.9" fill="#ee7252"/>
<rect x="673.9" y="660.1" width="3" height="4.5" fill="#10a86b"/>
<rect x="682.5" y="654.1" width="3" height="10.5" fill="#10a86b"/>
<rect x="691" y="650.4" width="3" height="14.2" fill="#10a86b"/>
<rect x="699.6" y="646.2" width="3" height="18.4" fill="#10a86b"/>
<rect x="708.2" y="645.1" width="3" height="19.5" fill="#10a86b"/>
<rect x="716.8" y="646.2" width="3" height="18.4" fill="#10a86b"/>
<rect x="725.3" y="647.4" width="3" height="17.2" fill="#10a86b"/>
<rect x="733.9" y="648.8" width="3" height="15.8" fill="#10a86b"/>
<rect x="742.5" y="651.5" width="3" height="13.1" fill="#10a86b"/>
<rect x="751.1" y="653" width="3" height="11.6" fill="#10a86b"/>
<rect x="759.6" y="654.1" width="3" height="10.5" fill="#10a86b"/>
<rect x="768.2" y="662" width="3" height="2.6" fill="#10a86b"/>
<rect x="776.8" y="664.6" width="3" height="3.7" fill="#ee7252"/>
<rect x="785.3" y="664.6" width="3" height="9.4" fill="#ee7252"/>
<rect x="793.9" y="664.6" width="3" height="9.4" fill="#ee7252"/>
<rect x="802.5" y="664.6" width="3" height="9.4" fill="#ee7252"/>
<rect x="811.1" y="664.6" width="3" height="7.7" fill="#ee7252"/>
<rect x="819.6" y="664.6" width="3" height="2.7" fill="#ee7252"/>
<rect x="828.2" y="661.4" width="3" height="3.2" fill="#10a86b"/>
<rect x="836.8" y="656.9" width="3" height="7.7" fill="#10a86b"/>
<rect x="845.4" y="653.9" width="3" height="10.7" fill="#10a86b"/>
<rect x="853.9" y="653" width="3" height="11.6" fill="#10a86b"/>
<defs><clipPath id="mc"><rect x="0" y="640.5" width="963" height="34"/></clipPath></defs>
<g clip-path="url(#mc)"><polyline points="50,630 63.3,640 66.8,643 99.6,648.2 109,646.6 120,650.5 143.4,655.9 175,650 205,640.4 215,636 570,632 582.7,640 606.4,658.9 615.2,670.3 624,672.9 650,675 678,675 695.6,664.7 725.5,648 743,646 761.5,640.9 773,649.2 787,659.7 795.8,667.3 804.5,667.3 822.1,660.2 838.9,650.2 855.7,645.8" fill="none" stroke="#2fb37a" stroke-width="1.3"/><polyline points="95,636 107.8,640 120,643.5 145,648.5 176.8,651.5 210,648 238.3,640.4 250,636 600,634 610,640 630,653.6 659.5,673.8 670,680 705,680 713.2,674 743,657.1 769.4,649.2 781.7,648.3 793.6,649.7 815.4,655.2 837.2,658.1 855.7,657.2" fill="none" stroke="#f0876a" stroke-width="1.3"/></g>
<rect x="6" y="661.5" width="8" height="1.4" fill="#b8b8b8"/><rect x="6" y="664" width="8" height="1.4" fill="#b8b8b8"/><rect x="6" y="666.5" width="8" height="1.4" fill="#b8b8b8"/><path d="M18.5 661 l6 6 M24.5 661 l-6 6" stroke="#b8b8b8" stroke-width="1.8"/>
<text x="27.8" y="672" font-size="9.3" fill="#8d8d8d" xml:space="preserve">MACD [12, 26, 9] 123.38184, 45.48770</text>
<text x="6.7" y="685.6" font-size="10.6" fill="#50575e">12.08.2025</text>
<text x="118.1" y="685.6" font-size="10.6" fill="#50575e">29.08.2025</text>
<text x="229.6" y="685.6" font-size="10.6" fill="#50575e">17.09.2025</text>
<text x="341" y="685.6" font-size="10.6" fill="#50575e">06.10.2025</text>
<text x="452.5" y="685.6" font-size="10.6" fill="#50575e">23.10.2025</text>
<text x="563.9" y="685.6" font-size="10.6" fill="#50575e">10.11.2025</text>
<text x="675.4" y="685.6" font-size="10.6" fill="#50575e">27.11.2025</text>
<text x="786.8" y="685.6" font-size="10.6" fill="#50575e">16.12.2025</text>
<text x="898.3" y="685.6" font-size="10.6" fill="#50575e">03.01.2026</text>
<rect x="513" y="583.8" width="9" height="1.8" fill="#9aa0a6"/>
<rect x="513" y="639" width="9" height="1.8" fill="#9aa0a6"/>
<text x="17.9" y="20.7" font-size="10.6" font-weight="bold" fill="#4f5b66">US100</text>
<text x="54" y="19.9" font-size="6.8" font-weight="bold" fill="#8a9298" letter-spacing="-0.2">CFD</text>
<path d="M74.7 14 L81.3 14 L78 17 Z" fill="#808890"/>
<rect x="114.3" y="9.6" width="37.6" height="12.8" fill="#ffffff" stroke="#dfe3e6" stroke-width="1"/>
<text x="119" y="20.1" font-size="9.8" fill="#5a6670" letter-spacing="-0.9">D1</text>
<path d="M142.5 14.2 L149 14.2 L145.75 17 Z" fill="#808890"/>
</svg></body></html>
